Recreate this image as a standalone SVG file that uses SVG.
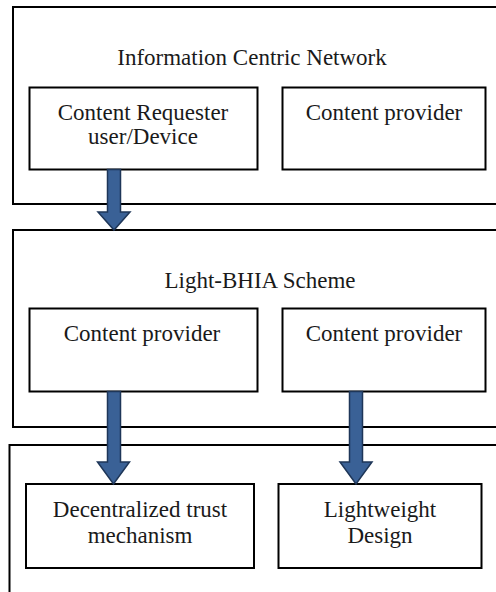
<svg xmlns="http://www.w3.org/2000/svg" width="496" height="592" viewBox="0 0 496 592">
<style>
.frame{fill:none;stroke:#000;stroke-width:2}
.box{fill:#fff;stroke:#000;stroke-width:2}
.t{font-family:'Liberation Serif','Tinos','Noto Serif','DejaVu Serif','FreeSerif','Times New Roman',serif;font-size:23px;fill:#1a1a1a;text-anchor:middle}
.arrow{fill:#3A6196;stroke:#1E3658;stroke-width:1.5;stroke-linejoin:miter}
</style>
<rect width="496" height="592" fill="#fff"/>
<g id="icn">
<rect class="frame" x="13" y="7" width="500" height="197"/>
<text class="t" x="252" y="65">Information Centric Network</text>
</g>
<g id="requester">
<rect class="box" x="29.5" y="87.5" width="228" height="82"/>
<text class="t" x="143" y="120">Content Requester</text>
<text class="t" x="143" y="144">user/Device</text>
</g>
<g id="provider1">
<rect class="box" x="282.5" y="87.5" width="203" height="82"/>
<text class="t" x="384" y="120">Content provider</text>
</g>
<g id="scheme">
<rect class="frame" x="13" y="230" width="500" height="197"/>
<text class="t" x="260" y="288">Light-BHIA Scheme</text>
</g>
<g id="provider2">
<rect class="box" x="29.5" y="308.5" width="228" height="83"/>
<text class="t" x="142" y="341">Content provider</text>
</g>
<g id="provider3">
<rect class="box" x="282.5" y="308.5" width="203" height="83"/>
<text class="t" x="384" y="341">Content provider</text>
</g>
<g id="bottom">
<rect class="frame" x="9.5" y="445" width="500" height="160"/>
</g>
<g id="trust">
<rect class="box" x="26" y="484" width="228" height="84"/>
<text class="t" x="140" y="517">Decentralized trust</text>
<text class="t" x="140" y="543">mechanism</text>
</g>
<g id="lightweight">
<rect class="box" x="278.5" y="484" width="203" height="84"/>
<text class="t" x="380" y="517">Lightweight</text>
<text class="t" x="380" y="543">Design</text>
</g>
<g id="connectors">
<polygon class="arrow" points="107.5,169.5 120.5,169.5 120.5,212 130,212 114,230 98,212 107.5,212"/>
<polygon class="arrow" points="107.5,391.5 120.5,391.5 120.5,462 129.5,462 113.5,484 97.5,462 107.5,462"/>
<polygon class="arrow" points="349.5,391.5 362.5,391.5 362.5,462 372,462 356,484 340,462 349.5,462"/>
</g>
</svg>
